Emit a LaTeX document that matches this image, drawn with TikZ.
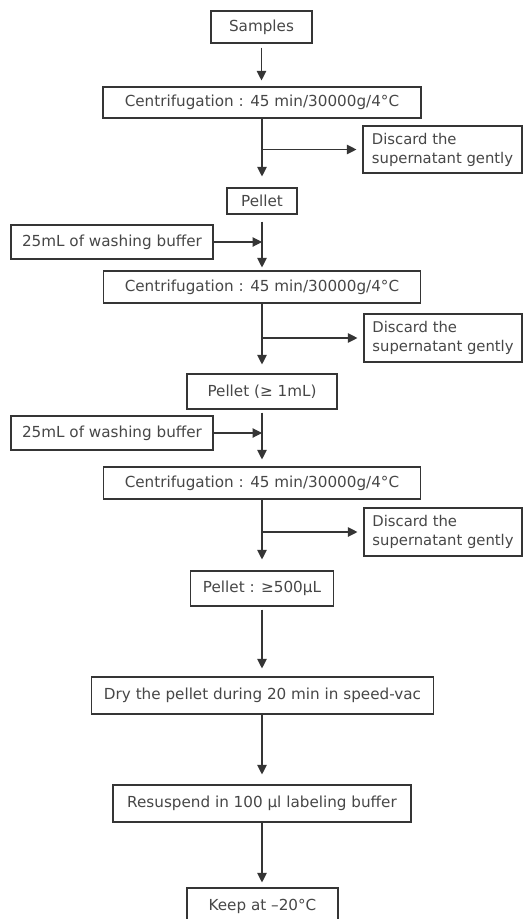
\documentclass[tikz,border=0pt]{standalone}
\usepackage{fontspec}
\setmainfont{DejaVu Sans}
\usetikzlibrary{arrows.meta}
\definecolor{txtc}{HTML}{474747}
\definecolor{linec}{HTML}{353535}
\tikzset{
  box/.style={draw=linec, line width=1.1pt, inner sep=0pt, text=txtc,
    font=\fontsize{15.2}{19}\selectfont, align=center},
  disc/.style={box, font=\fontsize{14.8}{19}\selectfont, align=left},
  arr/.style={draw=linec, line width=1.1pt, -{Triangle[length=9.5pt,width=9.5pt]}}
}
\begin{document}
\begin{tikzpicture}[x=1pt,y=-1pt]
\clip (0,0) rectangle (527,919);
\fill[white] (0,0) rectangle (527,919);
% nodes
\node[box, minimum width=101pt, minimum height=32pt] (samples) at (261.5,27) {Samples};
\node[box, minimum width=318pt, minimum height=31pt] (c1) at (262,102.5) {Centrifugation : 45 min/30000g/4°C};
\node[disc, minimum width=159pt, minimum height=47pt] (d1) at (442.5,149.5) {Discard the\\supernatant gently};
\node[box, minimum width=70pt, minimum height=26pt] (pellet) at (262,201) {Pellet};
\node[box, minimum width=202pt, minimum height=34pt] (w1) at (112,242) {25mL of washing buffer};
\node[box, minimum width=317pt, minimum height=32pt] (c2) at (262,287) {Centrifugation : 45 min/30000g/4°C};
\node[disc, minimum width=158pt, minimum height=48pt] (d2) at (443,338) {Discard the\\supernatant gently};
\node[box, minimum width=150pt, minimum height=35pt] (p2) at (262,391.5) {Pellet (≥ 1mL)};
\node[box, minimum width=202pt, minimum height=34pt] (w2) at (112,433) {25mL of washing buffer};
\node[box, minimum width=317pt, minimum height=32pt] (c3) at (262,483) {Centrifugation : 45 min/30000g/4°C};
\node[disc, minimum width=158pt, minimum height=48pt] (d3) at (443,532) {Discard the\\supernatant gently};
\node[box, minimum width=143pt, minimum height=35pt] (p3) at (262,588.5) {Pellet : ≥500µL};
\node[box, minimum width=342pt, minimum height=37pt] (dry) at (262.5,695.5) {Dry the pellet during 20 min in speed-vac};
\node[box, minimum width=298pt, minimum height=37pt] (res) at (262,803.5) {Resuspend in 100 µl labeling buffer};
\node[box, minimum width=151pt, minimum height=37pt] (keep) at (262.5,906.5) {Keep at –20°C};
% vertical arrows
\draw[arr, shorten <=4pt, shorten >=6pt] (samples.south) -- (samples.south |- c1.north);
\draw[arr, shorten >=11pt] (c1.south) -- (c1.south |- pellet.north);
\draw[arr, shorten <=7pt, shorten >=3pt] (pellet.south) -- (pellet.south |- c2.north);
\draw[arr, shorten >=9pt] (c2.south) -- (c2.south |- p2.north);
\draw[arr, shorten <=3pt, shorten >=7pt] (p2.south) -- (p2.south |- c3.north);
\draw[arr, shorten >=11pt] (c3.south) -- (c3.south |- p3.north);
\draw[arr, shorten <=3pt, shorten >=8pt] (p3.south) -- (p3.south |- dry.north);
\draw[arr, shorten >=10pt] (dry.south -| c1.south) -- (c1.south |- res.north);
\draw[arr, shorten >=5pt] (res.south) -- (res.south |- keep.north);
% branches to discard
\draw[arr, shorten >=6pt] (d1.west -| c1.south) -- (d1.west);
\draw[arr, shorten >=6pt] (d2.west -| c2.south) -- (d2.west);
\draw[arr, shorten >=6pt] (d3.west -| c3.south) -- (d3.west);
% washing buffer inputs
\draw[arr] (w1.east) -- (w1.east -| c2.north);
\draw[arr] (w2.east) -- (w2.east -| c3.north);
\end{tikzpicture}
\end{document}
